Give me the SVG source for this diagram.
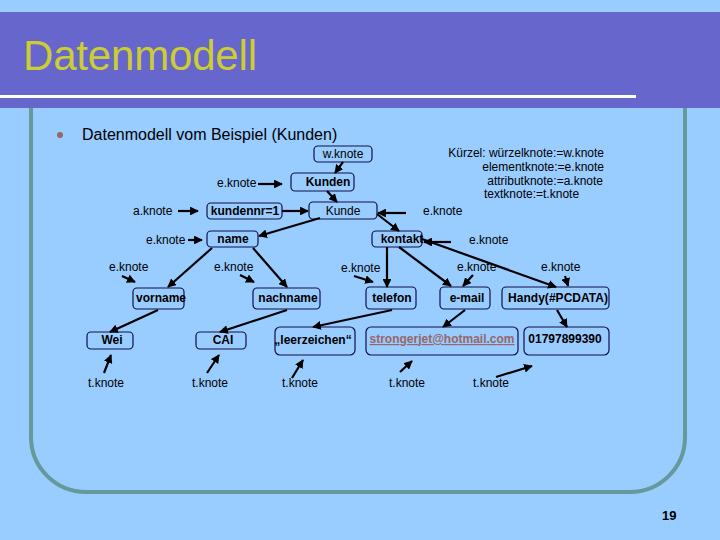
<svg xmlns="http://www.w3.org/2000/svg" width="720" height="540" viewBox="0 0 720 540">
<style>
.lbl{font-family:"Liberation Sans",Arial,sans-serif;font-size:12px;fill:#000}
.nt{font-family:"Liberation Sans",Arial,sans-serif;font-size:12px;font-weight:bold;fill:#000;text-anchor:middle}
.nn{font-family:"Liberation Sans",Arial,sans-serif;font-size:12px;fill:#000;text-anchor:middle}
.box{fill:none;stroke:#10104a;stroke-width:1.2}
.ar{stroke:#000;stroke-width:2.2;fill:none;marker-end:url(#ah)}
</style>
<defs>
<marker id="ah" viewBox="0 0 10 10" refX="9" refY="5" markerWidth="4" markerHeight="4" orient="auto">
<path d="M0,0 L10,5 L0,10 z" fill="#000"/>
</marker>
</defs>
<rect width="720" height="540" fill="#99CCFF"/>
<rect x="0" y="12" width="720" height="96" fill="#6666CC"/>
<rect x="0" y="95" width="636" height="3" fill="#FFFFFF"/>
<text x="23" y="70" font-family="Liberation Sans,Arial,sans-serif" font-size="42" fill="#CCCC33" textLength="234">Datenmodell</text>
<path d="M31,108 V437 A55,55 0 0 0 86,492 H630 A55,55 0 0 0 685,437 V108" fill="none" stroke="#669999" stroke-width="4"/>
<circle cx="60" cy="135" r="3" fill="#996666"/>
<text x="82" y="140" font-family="Liberation Sans,Arial,sans-serif" font-size="16" fill="#000">Datenmodell vom Beispiel (Kunden)</text>
<g id="legend" class="lbl">
<text x="604" y="157" text-anchor="end">Kürzel: würzelknote:=w.knote</text>
<text x="604" y="171" text-anchor="end">elementknote:=e.knote</text>
<text x="603" y="185" text-anchor="end">attributknote:=a.knote</text>
<text x="484" y="198">textknote:=t.knote</text>
</g>
<g id="labels" class="lbl">
<text x="217" y="187">e.knote</text>
<text x="133" y="215">a.knote</text>
<text x="146" y="244">e.knote</text>
<text x="423" y="215">e.knote</text>
<text x="469" y="244">e.knote</text>
<text x="109" y="271">e.knote</text>
<text x="214" y="271">e.knote</text>
<text x="341" y="272">e.knote</text>
<text x="457" y="271">e.knote</text>
<text x="541" y="271">e.knote</text>
<text x="88" y="387">t.knote</text>
<text x="192" y="387">t.knote</text>
<text x="282" y="387">t.knote</text>
<text x="389" y="387">t.knote</text>
<text x="473" y="387">t.knote</text>
</g>
<g id="n-wknote"><rect class="box" x="314" y="146" width="58" height="16" rx="4"/><text class="nn" x="343" y="158">w.knote</text></g>
<g id="n-kunden"><rect class="box" x="291" y="173" width="63" height="18" rx="4"/><text class="nt" x="328" y="186">Kunden</text></g>
<g id="n-kunde"><rect class="box" x="309" y="202" width="68" height="17" rx="4"/><text class="nn" x="343" y="215">Kunde</text></g>
<g id="n-kundennr"><rect class="box" x="207" y="203" width="75" height="16" rx="4"/><text class="nt" x="245" y="215">kundennr=1</text></g>
<g id="n-name"><rect class="box" x="207" y="231" width="51" height="16" rx="4"/><text class="nt" x="233" y="243">name</text></g>
<g id="n-kontakt"><rect class="box" x="372" y="231" width="50" height="16" rx="4"/><text class="nt" x="402" y="243">kontakt</text></g>
<g id="n-vorname"><rect class="box" x="133" y="288" width="51" height="21" rx="4"/><text class="nt" x="161" y="302">vorname</text></g>
<g id="n-nachname"><rect class="box" x="253" y="288" width="67" height="21" rx="4"/><text class="nt" x="288" y="302">nachname</text></g>
<g id="n-telefon"><rect class="box" x="366" y="287" width="50" height="22" rx="4"/><text class="nt" x="392" y="302">telefon</text></g>
<g id="n-email"><rect class="box" x="440" y="287" width="50" height="22" rx="4"/><text class="nt" x="467" y="302">e-mail</text></g>
<g id="n-handy"><rect class="box" x="502" y="287" width="107" height="22" rx="4"/><text class="nt" x="558" y="302" textLength="100">Handy(#PCDATA)</text></g>
<g id="n-wei"><rect class="box" x="87" y="332" width="46" height="17" rx="4"/><text class="nt" x="112" y="344">Wei</text></g>
<g id="n-cai"><rect class="box" x="196" y="332" width="50" height="17" rx="4"/><text class="nt" x="223" y="344">CAI</text></g>
<g id="n-leer"><rect class="box" x="275" y="327" width="80" height="28" rx="5"/><text class="nt" x="313" y="344">„leerzeichen“</text></g>
<g id="n-mail"><rect class="box" x="366" y="327" width="152" height="28" rx="5"/><text class="nt" x="442" y="343" fill="#996666" style="fill:#996666" text-decoration="underline" textLength="145">strongerjet@hotmail.com</text></g>
<g id="n-handynr"><rect class="box" x="524" y="327" width="85" height="28" rx="5"/><text class="nt" x="565" y="343">01797899390</text></g>
<g id="connectors">
<line class="ar" x1="343" y1="162" x2="335" y2="173"/>
<line class="ar" x1="258" y1="184" x2="282" y2="184"/>
<line class="ar" x1="327" y1="191" x2="337" y2="202"/>
<line class="ar" x1="178" y1="211" x2="198" y2="211"/>
<line class="ar" x1="282" y1="211" x2="308" y2="211"/>
<line class="ar" x1="406" y1="213" x2="378" y2="213"/>
<line class="ar" x1="320" y1="218" x2="259" y2="236"/>
<line class="ar" x1="188" y1="240" x2="202" y2="240"/>
<line class="ar" x1="377" y1="214" x2="399" y2="231"/>
<line class="ar" x1="451" y1="242" x2="424" y2="242"/>
<line class="ar" x1="422" y1="239" x2="556" y2="287"/>
<line class="ar" x1="387" y1="247" x2="387" y2="287"/>
<line class="ar" x1="399" y1="247" x2="451" y2="286"/>
<line class="ar" x1="212" y1="248" x2="168" y2="287"/>
<line class="ar" x1="253" y1="248" x2="287" y2="287"/>
<line class="ar" x1="122" y1="276" x2="135" y2="282"/>
<line class="ar" x1="240" y1="275" x2="254" y2="282"/>
<line class="ar" x1="354" y1="276" x2="373" y2="282"/>
<line class="ar" x1="473" y1="275" x2="463" y2="286"/>
<line class="ar" x1="565" y1="276" x2="568" y2="286"/>
<line class="ar" x1="158" y1="310" x2="110" y2="332"/>
<line class="ar" x1="287" y1="310" x2="220" y2="332"/>
<line class="ar" x1="392" y1="310" x2="313" y2="327"/>
<line class="ar" x1="465" y1="310" x2="443" y2="327"/>
<line class="ar" x1="557" y1="310" x2="567" y2="327"/>
<line class="ar" x1="104" y1="373" x2="111" y2="355"/>
<line class="ar" x1="207" y1="373" x2="219" y2="355"/>
<line class="ar" x1="292" y1="378" x2="303" y2="360"/>
<line class="ar" x1="400" y1="372" x2="412" y2="361"/>
<line class="ar" x1="496" y1="377" x2="532" y2="366"/>
</g>
<text x="662" y="520" font-family="Liberation Sans,Arial,sans-serif" font-size="13" font-weight="bold" fill="#000">19</text>
</svg>
